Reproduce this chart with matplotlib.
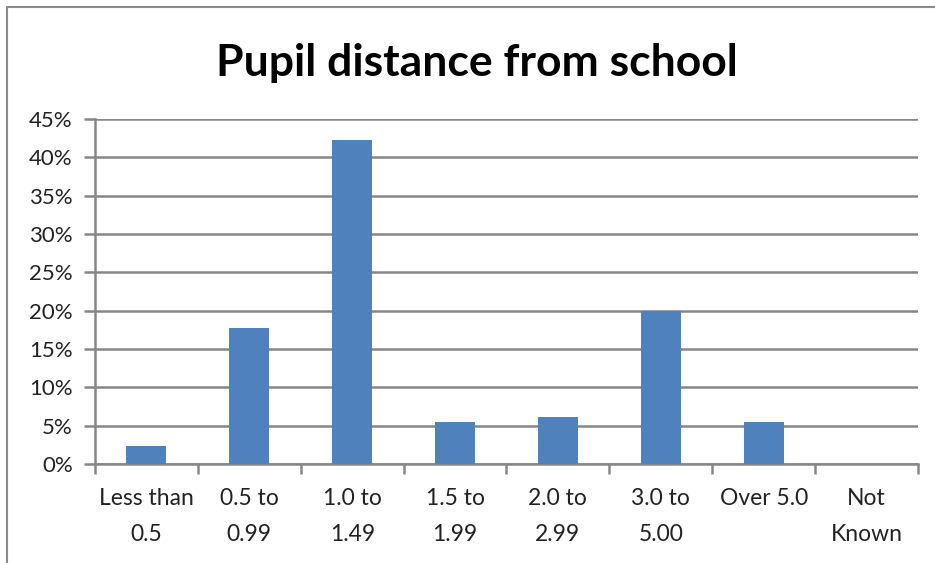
import numpy as np
import matplotlib
matplotlib.use("Agg")
import matplotlib.pyplot as plt
from matplotlib.patches import Rectangle
from matplotlib.ticker import FuncFormatter

# ============================================================
# Data
# ============================================================

categories = ["Less than\n0.5", "0.5 to\n0.99", "1.0 to\n1.49", "1.5 to\n1.99",
              "2.0 to\n2.99", "3.0 to\n5.00", "Over 5.0", "Not\nKnown"]
percent = [2.4, 17.8, 42.3, 5.5, 6.1, 19.9, 5.5, 0.0]
y_ticks = [0, 5, 10, 15, 20, 25, 30, 35, 40, 45]

BAR_COLOR = "#4F81BD"
GRID_COLOR = "#878787"

plt.rcParams['font.family'] = ['Lato', 'DejaVu Sans']

# ============================================================
# Plot
# ============================================================

fig = plt.figure(figsize=(9.35, 5.63), dpi=100)
ax = fig.add_axes([0.1016, 0.1758, 0.8802, 0.6128])

x = np.arange(len(categories))
ax.bar(x, percent, width=0.39, color=BAR_COLOR, zorder=3)

ax.set_xlim(-0.5, len(categories) - 0.5)
ax.set_ylim(0, 45)
ax.set_yticks(y_ticks)
ax.yaxis.set_major_formatter(FuncFormatter(lambda v, p: f"{int(v)}%"))
ax.yaxis.grid(True, color=GRID_COLOR, linewidth=1.8, zorder=0)

# category ticks sit on the boundaries, labels at centres
ax.set_xticks(np.arange(len(categories) + 1) - 0.5)
ax.set_xticklabels([])
ax.set_xticks(x, minor=True)
ax.set_xticklabels(categories, minor=True, fontsize=16.5, color="#222222",
                   linespacing=1.9)
ax.tick_params(axis='x', which='minor', length=0, pad=17)
ax.tick_params(axis='x', which='major', length=7, width=1.8, color=GRID_COLOR)
ax.tick_params(axis='y', length=8, width=1.8, color=GRID_COLOR,
               labelsize=16, labelcolor="#222222", pad=8)

for side in ['top', 'right']:
    ax.spines[side].set_visible(False)
for side in ['left', 'bottom']:
    ax.spines[side].set_color(GRID_COLOR)
    ax.spines[side].set_linewidth(1.8)

fig.text(0.51, 0.888, "Pupil distance from school", ha='center', va='center',
         fontsize=32, fontweight='bold', color="black")

# outer chart frame (runs off right and bottom edges)
fig.patches.append(Rectangle((7 / 935, -0.05), 1.05, 1 - 7 / 563 + 0.05,
                             transform=fig.transFigure, fill=False,
                             edgecolor="#8c8c8c", linewidth=1.5))

fig.savefig("out.png", dpi=100)
